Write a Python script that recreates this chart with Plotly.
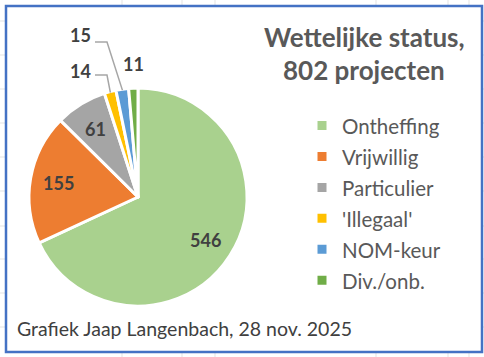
import math
import plotly.graph_objects as go

labels = ["Ontheffing", "Vrijwillig", "Particulier", "'Illegaal'", "NOM-keur", "Div./onb."]
values = [546, 155, 61, 14, 15, 11]
colors = ["#A9D18E", "#ED7D31", "#A5A5A5", "#FFC000", "#5B9BD5", "#70AD47"]
title_lines = ["Wettelijke status,", "802 projecten"]
footer = "Grafiek Jaap Langenbach, 28 nov. 2025"

W, H = 484, 357
CX, CY, R = 138, 197, 107
FONT = "Lato"
TXT = "#595959"
LBL = "#404040"

def px(x):
    return x / W

def py(y):
    return 1 - y / H

DR = R + 2
fig = go.Figure(go.Pie(
    labels=labels,
    values=values,
    sort=False,
    direction="clockwise",
    rotation=0,
    marker=dict(colors=colors, line=dict(color="white", width=3)),
    textinfo="none",
    hoverinfo="label+value",
    domain=dict(x=[px(CX - DR), px(CX + DR)], y=[py(CY + DR), py(CY - DR)]),
))

total = sum(values)
cum = 0
mids = []
for v in values:
    mids.append((cum + v / 2) / total * 2 * math.pi)
    cum += v

def polar(theta, r):
    return CX + r * math.sin(theta), CY - r * math.cos(theta)

def text_ann(x, y, text, size, color, xanchor="center", bold=False):
    return dict(x=px(x), y=py(y), xref="paper", yref="paper",
                xanchor=xanchor, yanchor="middle",
                text=("<b>%s</b>" % text) if bold else text, showarrow=False,
                font=dict(family=FONT, size=size, color=color))

annotations = []
shapes = []
# inside labels for the three large slices
for i in range(3):
    x, y = polar(mids[i], 0.75 * R)
    annotations.append(text_ann(x, y, str(values[i]), 18, LBL, bold=True))

# outside labels with elbow leader lines
outside = {3: (80, 71, True), 4: (80, 35.5, True), 5: (133.5, 63.5, False)}
for i, (tx, ty, leader) in outside.items():
    annotations.append(text_ann(tx, ty, str(values[i]), 18, LBL, bold=True))
    if leader:
        ex, ey = polar(mids[i], R + 1)
        ly = ty + (4 if i == 3 else 6.5)
        pts = [(tx + 15, ly), (tx + 27, ly), (ex, ey)]
        path = "M %f,%f" % (px(pts[0][0]), py(pts[0][1]))
        for (a, b) in pts[1:]:
            path += " L %f,%f" % (px(a), py(b))
        shapes.append(dict(type="path", path=path, xref="paper", yref="paper",
                           line=dict(color="#A6A6A6", width=1.5)))

# title
for line, yy in zip(title_lines, [37, 70]):
    annotations.append(text_ann(364, yy, line, 26, TXT, bold=True))

# footer
annotations.append(text_ann(15, 328, footer, 19.5, LBL, xanchor="left"))

# spreadsheet gridlines outside the chart border
grid = "#E3E3E3"
for gx in [122, 182, 215, 376, 448, 469]:
    shapes.append(dict(type="line", xref="paper", yref="paper", x0=px(gx), x1=px(gx),
                       y0=py(0), y1=py(5), line=dict(color=grid, width=1)))
    shapes.append(dict(type="line", xref="paper", yref="paper", x0=px(gx), x1=px(gx),
                       y0=py(353), y1=py(357), line=dict(color=grid, width=1)))
for gy in [21, 55, 89, 123, 157, 191, 226, 259, 293, 327]:
    shapes.append(dict(type="line", xref="paper", yref="paper", x0=px(0), x1=px(5),
                       y0=py(gy), y1=py(gy), line=dict(color=grid, width=1)))
    shapes.append(dict(type="line", xref="paper", yref="paper", x0=px(483), x1=px(484),
                       y0=py(gy), y1=py(gy), line=dict(color=grid, width=1)))

# chart border
shapes.append(dict(type="rect", xref="paper", yref="paper", x0=px(6), x1=px(482),
                   y0=py(352), y1=py(6), line=dict(color="#4472C4", width=2.5)))

legend_text_size = 20.5
fig.update_traces(labels=["<span style='font-size:%spx'>%s</span>" % (legend_text_size, l) for l in labels])

fig.update_layout(
    width=W, height=H,
    margin=dict(l=0, r=0, t=0, b=0),
    paper_bgcolor="white",
    plot_bgcolor="white",
    font=dict(family=FONT, color=TXT),
    showlegend=True,
    legend=dict(x=px(302), y=py(105), xanchor="left", yanchor="top",
                font=dict(family=FONT, size=21.5, color=TXT),
                bgcolor="rgba(0,0,0,0)", itemclick=False),
    annotations=annotations,
    shapes=shapes,
)

fig.write_html("out.html", config={"displayModeBar": False},
               post_script="document.body.style.margin='0';")
